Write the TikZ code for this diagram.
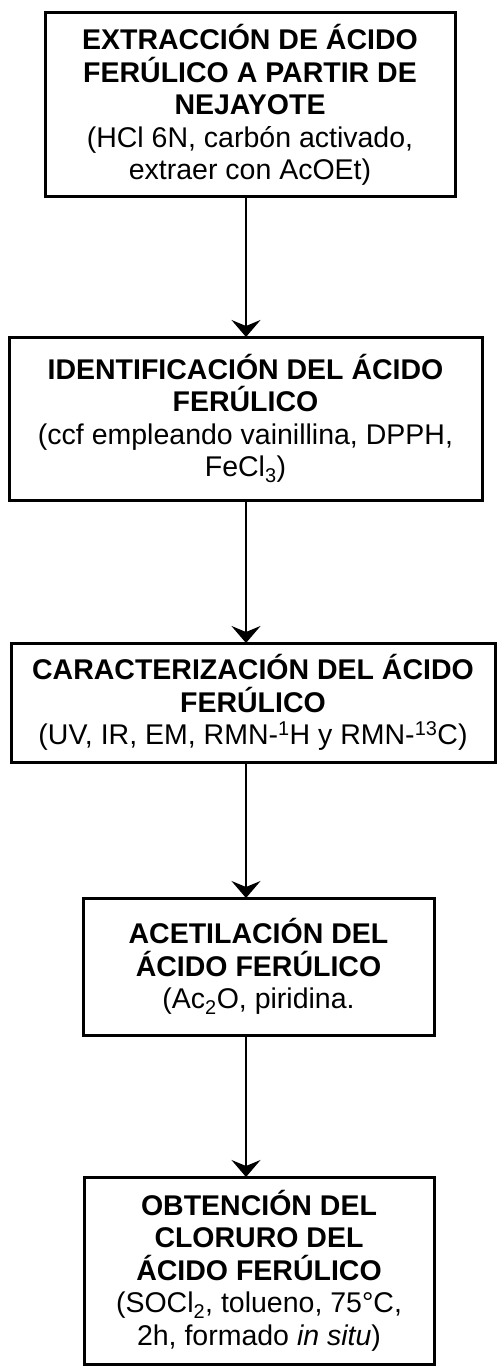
\documentclass[tikz,border=0pt]{standalone}
\usepackage{fontspec}
\setmainfont{Liberation Sans}
\usetikzlibrary{arrows.meta}
\begin{document}
\begin{tikzpicture}[x=1pt,y=-1pt,
  stepbox/.style={draw, line width=3pt, inner sep=0pt, outer sep=0pt, align=center,
    font=\fontsize{28.5}{32.5}\selectfont},
  flow/.style={line width=1.5pt, -{Stealth[length=17pt,width=29pt,inset=6pt]}}]
\useasboundingbox (0,0) rectangle (496,1367);
\fill[white] (0,0) rectangle (496,1367);
\coordinate (ax) at (246,0);
\node[stepbox, minimum width=410pt, minimum height=184pt] (b1) at (250,105)
  {\textbf{EXTRACCIÓN DE ÁCIDO}\\\textbf{FERÚLICO A PARTIR DE}\\\textbf{NEJAYOTE}\\(HCl 6N, carbón activado,\\extraer con AcOEt)};
\node[stepbox, minimum width=473pt, minimum height=163pt] (b2) at (245.5,418.5)
  {\textbf{IDENTIFICACIÓN DEL ÁCIDO}\\\textbf{FERÚLICO}\\(ccf empleando vainillina, DPPH,\\FeCl\textsubscript{3})};
\node[stepbox, minimum width=484pt, minimum height=119pt] (b3) at (253,702.5)
  {\textbf{CARACTERIZACIÓN DEL ÁCIDO}\\\textbf{FERÚLICO}\\(UV, IR, EM, RMN-\textsuperscript{1}H y RMN-\textsuperscript{13}C)};
\node[stepbox, minimum width=351pt, minimum height=137pt] (b4) at (258.5,966.5)
  {\textbf{ACETILACIÓN DEL}\\\textbf{ÁCIDO FERÚLICO}\\(Ac\textsubscript{2}O, piridina.};
\node[stepbox, minimum width=350pt, minimum height=187pt] (b5) at (259,1270.5)
  {\textbf{OBTENCIÓN DEL}\\\textbf{CLORURO DEL}\\\textbf{ÁCIDO FERÚLICO}\\(SOCl\textsubscript{2}, tolueno, 75°C,\\2h, formado \textit{in situ})};
\draw[flow] (b1.south -| ax) -- (b2.north -| ax);
\draw[flow] (b2.south -| ax) -- (b3.north -| ax);
\draw[flow] (b3.south -| ax) -- (b4.north -| ax);
\draw[flow] (b4.south -| ax) -- (b5.north -| ax);
\end{tikzpicture}
\end{document}
